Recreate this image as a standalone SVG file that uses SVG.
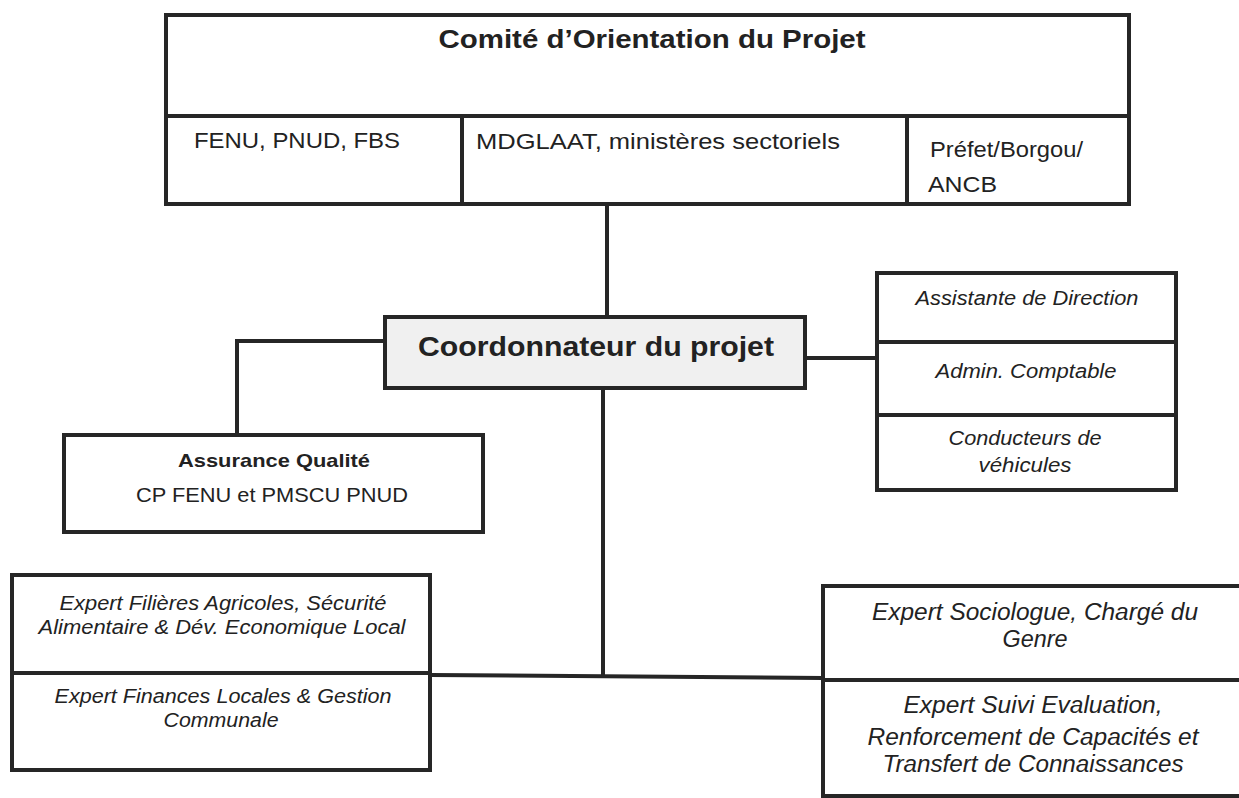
<svg xmlns="http://www.w3.org/2000/svg" width="1239" height="798" viewBox="0 0 1239 798">
<style>
.box{fill:#fff;stroke:#262626;stroke-width:4}
.div{stroke:#262626;stroke-width:4;fill:none}
.con{stroke:#262626;stroke-width:4;fill:none}
.t{font-family:"Liberation Sans",Arial,sans-serif;fill:#222;text-anchor:middle}
.b{font-weight:bold}
.i{font-style:italic}
.l{text-anchor:start}
</style>
<rect width="1239" height="798" fill="#fff"/>
<g id="connectors">
<line class="con" x1="607" y1="203" x2="607" y2="317"/>
<polyline class="con" points="385,341 237,341 237,435"/>
<line class="con" x1="805" y1="358" x2="877" y2="358"/>
<line class="con" x1="603" y1="388" x2="603" y2="676"/>
<line class="con" x1="430" y1="675" x2="823" y2="678"/>
</g>
<g id="comite">
<rect class="box" x="166" y="15" width="963" height="189"/>
<line class="div" x1="166" y1="116" x2="1129" y2="116"/>
<line class="div" x1="462" y1="116" x2="462" y2="204"/>
<line class="div" x1="907" y1="116" x2="907" y2="204"/>
<text class="t b" x="652" y="48" font-size="26" textLength="427" lengthAdjust="spacingAndGlyphs">Comité d’Orientation du Projet</text>
<text class="t l" x="194" y="148" font-size="22" textLength="206" lengthAdjust="spacingAndGlyphs">FENU, PNUD, FBS</text>
<text class="t l" x="476" y="149" font-size="22" textLength="364" lengthAdjust="spacingAndGlyphs">MDGLAAT, ministères sectoriels</text>
<text class="t l" x="930" y="157" font-size="22" textLength="153" lengthAdjust="spacingAndGlyphs">Préfet/Borgou/</text>
<text class="t l" x="928" y="192" font-size="22" textLength="69" lengthAdjust="spacingAndGlyphs">ANCB</text>
</g>
<g id="coordonnateur">
<rect class="box" x="385" y="317" width="420" height="71" style="fill:#f0f0f0"/>
<text class="t b" x="596" y="356" font-size="28" textLength="356" lengthAdjust="spacingAndGlyphs">Coordonnateur du projet</text>
</g>
<g id="assurance">
<rect class="box" x="64" y="435" width="419" height="97"/>
<text class="t b" x="274" y="467" font-size="19" textLength="192" lengthAdjust="spacingAndGlyphs">Assurance Qualité</text>
<text class="t" x="272" y="502" font-size="21" textLength="272" lengthAdjust="spacingAndGlyphs">CP FENU et PMSCU PNUD</text>
</g>
<g id="staff">
<rect class="box" x="877" y="273" width="299" height="217"/>
<line class="div" x1="877" y1="342" x2="1176" y2="342"/>
<line class="div" x1="877" y1="415" x2="1176" y2="415"/>
<text class="t i" x="1027" y="305" font-size="20" textLength="223" lengthAdjust="spacingAndGlyphs">Assistante de Direction</text>
<text class="t i" x="1026" y="378" font-size="20" textLength="181" lengthAdjust="spacingAndGlyphs">Admin. Comptable</text>
<text class="t i" x="1025" y="445" font-size="20" textLength="153" lengthAdjust="spacingAndGlyphs">Conducteurs de</text>
<text class="t i" x="1025" y="472" font-size="20" textLength="93" lengthAdjust="spacingAndGlyphs">véhicules</text>
</g>
<g id="experts-left">
<rect class="box" x="12" y="575" width="418" height="195"/>
<line class="div" x1="12" y1="673" x2="430" y2="673"/>
<text class="t i" x="223" y="610" font-size="20" textLength="327" lengthAdjust="spacingAndGlyphs">Expert Filières Agricoles, Sécurité</text>
<text class="t i" x="222" y="634" font-size="20" textLength="367" lengthAdjust="spacingAndGlyphs">Alimentaire &amp; Dév. Economique Local</text>
<text class="t i" x="223" y="703" font-size="20" textLength="337" lengthAdjust="spacingAndGlyphs">Expert Finances Locales &amp; Gestion</text>
<text class="t i" x="221" y="727" font-size="20" textLength="115" lengthAdjust="spacingAndGlyphs">Communale</text>
</g>
<g id="experts-right">
<rect class="box" x="823" y="586" width="440" height="210"/>
<line class="div" x1="823" y1="680" x2="1263" y2="680"/>
<text class="t i" x="1035" y="620" font-size="23" textLength="326" lengthAdjust="spacingAndGlyphs">Expert Sociologue, Chargé du</text>
<text class="t i" x="1035" y="647" font-size="23" textLength="65" lengthAdjust="spacingAndGlyphs">Genre</text>
<text class="t i" x="1033" y="713" font-size="23" textLength="259" lengthAdjust="spacingAndGlyphs">Expert Suivi Evaluation,</text>
<text class="t i" x="1033" y="745" font-size="23" textLength="331" lengthAdjust="spacingAndGlyphs">Renforcement de Capacités et</text>
<text class="t i" x="1033" y="772" font-size="23" textLength="301" lengthAdjust="spacingAndGlyphs">Transfert de Connaissances</text>
</g>
</svg>
